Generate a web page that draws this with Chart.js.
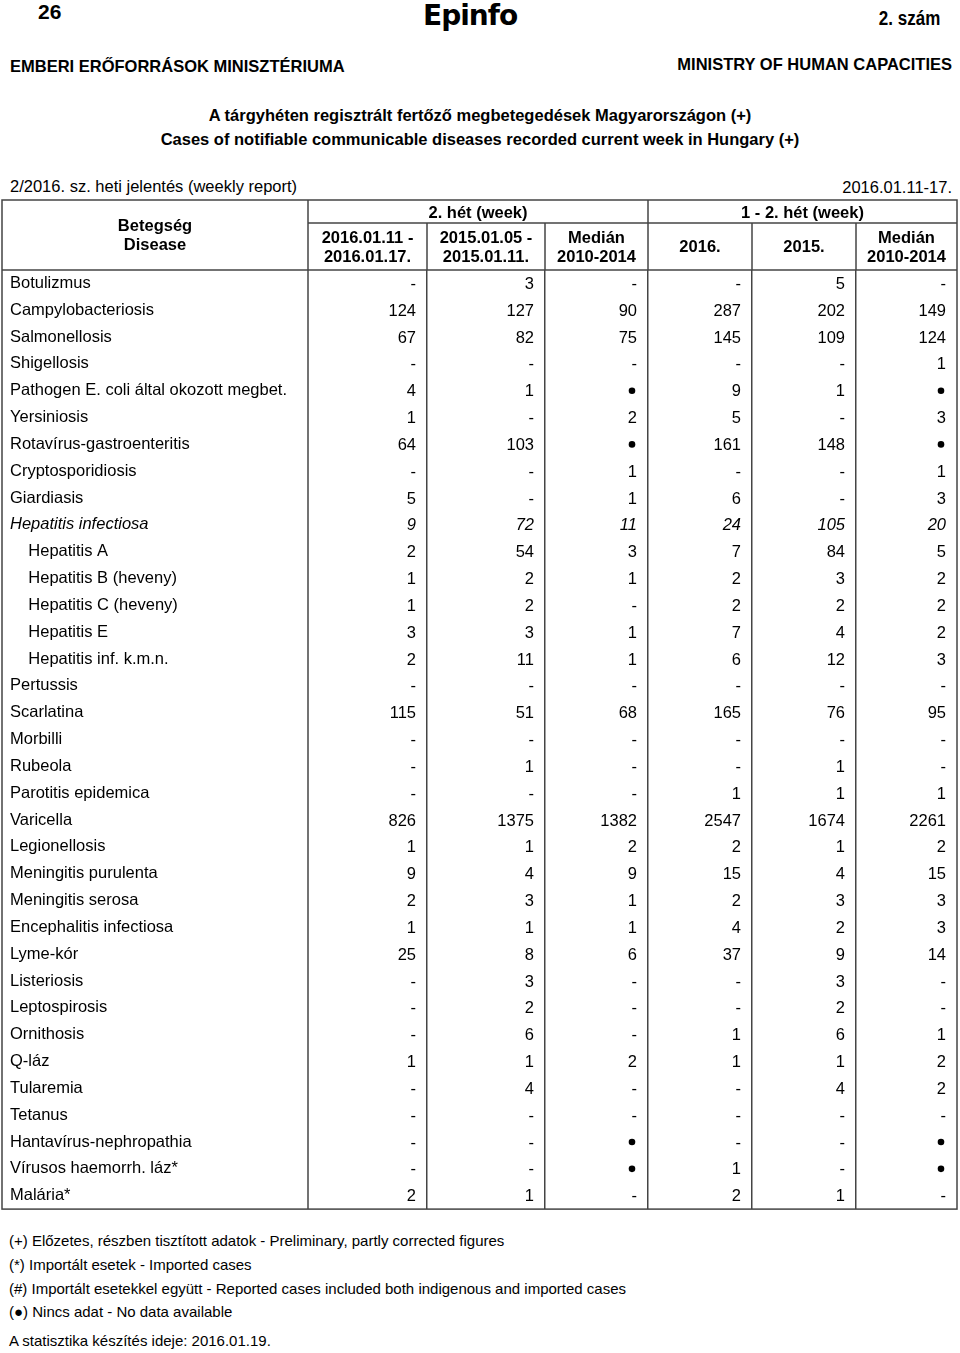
<!DOCTYPE html>
<html lang="hu">
<head>
<meta charset="utf-8">
<title>Epinfo 2/2016</title>
<script src="https://cdn.jsdelivr.net/npm/chart.js@4.4.1/dist/chart.umd.min.js"></script>
<style>
body { margin: 0; background: #fff; }
#page { position: relative; width: 960px; height: 1353px; font-family: "Liberation Sans", Arial, sans-serif; color: #000; }
.t { position: absolute; white-space: nowrap; line-height: 20px; height: 20px; font-size: 16.5px; }
.b { font-weight: bold; }
.r { text-align: right; }
.c { left: 0; width: 960px; text-align: center; }
.f { font-size: 15px; left: 9px; }
#wrap { position: absolute; left: 0; top: 196px; width: 960px; height: 1023px; }
</style>
</head>
<body>
<div id="page">
  <div class="t b" style="left:38px;top:2px;font-size:21px;">26</div>
  <div class="t b" style="left:423px;top:1px;height:30px;line-height:30px;font-family:'DejaVu Sans';font-size:28px;letter-spacing:-1px;">Epinfo</div>
  <div class="t b r" style="right:20px;top:8px;font-size:20px;transform:scaleX(0.85);transform-origin:right center;">2. szám</div>
  <div class="t b" style="left:10px;top:56px;">EMBERI ERŐFORRÁSOK MINISZTÉRIUMA</div>
  <div class="t b r" style="right:8px;top:54px;">MINISTRY OF HUMAN CAPACITIES</div>
  <div class="t b c" style="top:105px;">A tárgyhéten regisztrált fertőző megbetegedések Magyarországon (+)</div>
  <div class="t b c" style="top:129px;">Cases of notifiable communicable diseases recorded current week in Hungary (+)</div>
  <div class="t" style="left:10px;top:176px;">2/2016. sz. heti jelentés (weekly report)</div>
  <div class="t r" style="right:8px;top:177px;">2016.01.11-17.</div>

  <div id="wrap"><canvas id="tbl" width="960" height="1023"></canvas></div>

  <div class="t f" style="top:1231px;">(+) Előzetes, részben tisztított adatok - Preliminary, partly corrected figures</div>
  <div class="t f" style="top:1255px;">(*) Importált esetek - Imported cases</div>
  <div class="t f" style="top:1279px;">(#) Importált esetekkel együtt - Reported cases included both indigenous and imported cases</div>
  <div class="t f" style="top:1302px;">(●) Nincs adat - No data available</div>
  <div class="t f" style="top:1331px;">A statisztika készítés ideje: 2016.01.19.</div>
</div>

<script>
// rows of the table
const diseases = [
  'Botulizmus', 'Campylobacteriosis', 'Salmonellosis', 'Shigellosis',
  'Pathogen E. coli által okozott megbet.', 'Yersiniosis', 'Rotavírus-gastroenteritis',
  'Cryptosporidiosis', 'Giardiasis', 'Hepatitis infectiosa', 'Hepatitis A',
  'Hepatitis B (heveny)', 'Hepatitis C (heveny)', 'Hepatitis E', 'Hepatitis inf. k.m.n.',
  'Pertussis', 'Scarlatina', 'Morbilli', 'Rubeola', 'Parotitis epidemica', 'Varicella',
  'Legionellosis', 'Meningitis purulenta', 'Meningitis serosa', 'Encephalitis infectiosa',
  'Lyme-kór', 'Listeriosis', 'Leptospirosis', 'Ornithosis', 'Q-láz', 'Tularemia',
  'Tetanus', 'Hantavírus-nephropathia', 'Vírusos haemorrh. láz*', 'Malária*'
];
const subRows = ['Hepatitis A', 'Hepatitis B (heveny)', 'Hepatitis C (heveny)', 'Hepatitis E', 'Hepatitis inf. k.m.n.'];
const italicRow = 'Hepatitis infectiosa';

// 0 = "-", null = no data (dot)
const week2016   = [0,124,67,0,4,1,64,0,5,9,2,1,1,3,2,0,115,0,0,0,826,1,9,2,1,25,0,0,0,1,0,0,0,0,2];
const week2015   = [3,127,82,0,1,0,103,0,0,72,54,2,2,3,11,0,51,0,1,0,1375,1,4,3,1,8,3,2,6,1,4,0,0,0,1];
const weekMedian = [0,90,75,0,null,2,null,1,1,11,3,1,0,1,1,0,68,0,0,0,1382,2,9,1,1,6,0,0,0,2,0,0,null,null,0];
const cum2016    = [0,287,145,0,9,5,161,0,6,24,7,2,2,7,6,0,165,0,0,1,2547,2,15,2,4,37,0,0,1,1,0,0,0,1,2];
const cum2015    = [5,202,109,0,1,0,148,0,0,105,84,3,2,4,12,0,76,0,1,1,1674,1,4,3,2,9,3,2,6,1,4,0,0,0,1];
const cumMedian  = [0,149,124,1,null,3,null,1,3,20,5,2,2,2,3,0,95,0,0,1,2261,2,15,3,3,14,0,0,1,2,2,0,null,null,0];

const columns = [week2016, week2015, weekMedian, cum2016, cum2015, cumMedian];
const colHeads = [
  ['2016.01.11 -', '2016.01.17.'], ['2015.01.05 -', '2015.01.11.'], ['Medián', '2010-2014'],
  ['2016.'], ['2015.'], ['Medián', '2010-2014']
];
const groupHeads = ['2. hét (week)', '1 - 2. hét (week)'];
const nameHead = ['Betegség', 'Disease'];

// layout
const FAMILY = '"Liberation Sans", Arial, sans-serif';
const colWidths = [119, 118, 103, 104, 104, 101];
const colEdges = colWidths.reduce((acc, w) => { acc.push(acc[acc.length - 1] + w); return acc; }, [0]);
const lineColor = '#444';
const tableLeft = 2;

const datasets = columns.map((vals, c) => ({
  label: colHeads[c].join(' '),
  data: vals.map((v, r) => ({ x: colEdges[c + 1] - 11, y: diseases[r], v: v })),
  pointRadius: 0,
  showLine: false
}));

const cellText = {
  id: 'cellText',
  afterDatasetsDraw(chart) {
    const ctx = chart.ctx;
    ctx.save();
    ctx.textAlign = 'right';
    ctx.textBaseline = 'middle';
    ctx.fillStyle = '#000';
    chart.data.datasets.forEach((ds, c) => {
      chart.getDatasetMeta(c).data.forEach((pt, r) => {
        const v = ds.data[r].v;
        ctx.font = (diseases[r] === italicRow ? 'italic ' : '') + '16.5px ' + FAMILY;
        if (v === null) {
          ctx.beginPath();
          ctx.arc(pt.x - 5, pt.y, 3.3, 0, Math.PI * 2);
          ctx.fill();
        } else {
          ctx.fillText(v === 0 ? '-' : String(v), pt.x, pt.y + 1);
        }
      });
    });
    ctx.restore();
  }
};

const header = {
  id: 'header',
  afterDraw(chart) {
    const { ctx, chartArea: a, scales: { x } } = chart;
    const top = a.top - 70;
    const mid = a.top - 47;
    const px = colEdges.map(v => x.getPixelForValue(v));
    ctx.save();
    ctx.strokeStyle = lineColor;
    ctx.lineWidth = 1.5;
    ctx.strokeRect(tableLeft, top, a.right - tableLeft, a.bottom - top);
    const line = (x1, y1, x2, y2) => { ctx.beginPath(); ctx.moveTo(x1, y1); ctx.lineTo(x2, y2); ctx.stroke(); };
    line(tableLeft, a.top, a.right, a.top);
    line(a.left, top, a.left, a.bottom);
    line(px[3], top, px[3], a.top);
    line(a.left, mid, a.right, mid);
    [1, 2, 4, 5].forEach(i => line(px[i], mid, px[i], a.top));

    ctx.fillStyle = '#000';
    ctx.textAlign = 'center';
    ctx.textBaseline = 'middle';
    ctx.font = 'bold 16.5px ' + FAMILY;
    const cx0 = (tableLeft + a.left) / 2;
    ctx.fillText(nameHead[0], cx0, top + 26);
    ctx.fillText(nameHead[1], cx0, top + 45);
    ctx.fillText(groupHeads[0], (px[0] + px[3]) / 2, top + 13);
    ctx.fillText(groupHeads[1], (px[3] + px[6]) / 2, top + 13);
    colHeads.forEach((lines, c) => {
      const cx = (px[c] + px[c + 1]) / 2;
      if (lines.length === 1) ctx.fillText(lines[0], cx, top + 47);
      else {
        ctx.fillText(lines[0], cx, top + 38);
        ctx.fillText(lines[1], cx, top + 57);
      }
    });
    ctx.restore();
  }
};

new Chart(document.getElementById('tbl'), {
  type: 'scatter',
  data: { datasets: datasets },
  options: {
    responsive: false,
    devicePixelRatio: 1,
    animation: false,
    layout: { padding: { top: 74, bottom: 4, left: 10, right: 3 } },
    plugins: { legend: { display: false }, tooltip: { enabled: false } },
    scales: {
      x: {
        type: 'linear',
        position: 'bottom',
        min: 0,
        max: colEdges[colEdges.length - 1],
        afterBuildTicks: (scale) => { scale.ticks = colEdges.slice(1, -1).map(v => ({ value: v })); },
        ticks: { display: false },
        grid: { color: lineColor, lineWidth: 1.5, drawTicks: false },
        border: { display: false }
      },
      y: {
        type: 'category',
        labels: diseases,
        offset: true,
        afterFit: (scale) => { scale.width = 298; },
        grid: { display: false },
        border: { display: false },
        ticks: {
          autoSkip: false,
          crossAlign: 'far',
          padding: 0,
          color: '#000',
          font: (c) => ({ family: FAMILY, size: 16.5, style: diseases[c.index] === italicRow ? 'italic' : 'normal' }),
          callback: function (value) {
            const name = this.getLabelForValue(value);
            return subRows.includes(name) ? '    ' + name : name;
          }
        }
      }
    }
  },
  plugins: [cellText, header]
});
</script>
</body>
</html>
